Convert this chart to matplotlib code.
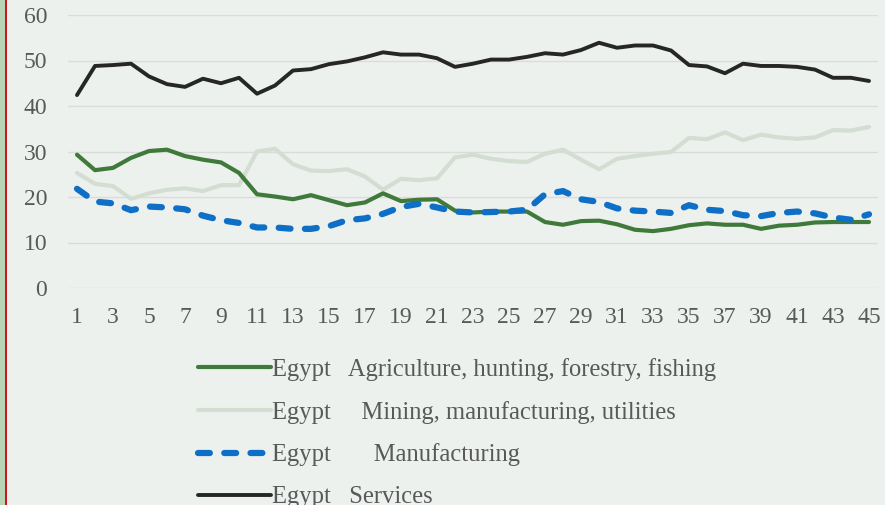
import matplotlib
matplotlib.use("Agg")
import matplotlib.pyplot as plt
from matplotlib.patches import Rectangle

# Period index (1..45)
periods = list(range(1, 46))

agriculture = [29.3, 25.9, 26.4, 28.6, 30.1, 30.4, 29.0, 28.2, 27.6, 25.3,
               20.6, 20.1, 19.5, 20.4, 19.3, 18.2, 18.8, 20.8, 19.1, 19.4,
               19.5, 17.0, 16.6, 16.8, 16.8, 16.8, 14.5, 13.9, 14.7, 14.8,
               14.0, 12.8, 12.5, 13.0, 13.8, 14.2, 13.9, 13.9, 13.0, 13.7,
               13.9, 14.4, 14.5, 14.5, 14.5]

mining = [25.3, 22.9, 22.4, 19.6, 20.8, 21.6, 21.9, 21.3, 22.6, 22.6,
          30.0, 30.6, 27.2, 25.8, 25.7, 26.1, 24.5, 21.6, 24.0, 23.7,
          24.1, 28.7, 29.3, 28.4, 27.9, 27.7, 29.5, 30.4, 28.2, 26.1,
          28.4, 29.0, 29.5, 29.9, 33.0, 32.7, 34.2, 32.5, 33.7, 33.1,
          32.8, 33.1, 34.7, 34.6, 35.4]

manufacturing = [21.8, 19.0, 18.6, 17.1, 17.9, 17.7, 17.3, 15.9, 14.9, 14.3,
                 13.3, 13.3, 13.0, 13.0, 13.6, 14.9, 15.3, 16.3, 17.8, 18.5,
                 17.7, 16.8, 16.6, 16.7, 16.8, 17.2, 20.6, 21.3, 19.5, 18.9,
                 17.5, 17.0, 16.8, 16.5, 18.2, 17.2, 16.9, 16.0, 15.8, 16.5,
                 16.8, 16.4, 15.5, 15.0, 16.2]

services = [42.4, 48.8, 49.0, 49.3, 46.5, 44.8, 44.2, 46.0, 45.0, 46.2,
            42.7, 44.5, 47.8, 48.1, 49.2, 49.8, 50.7, 51.8, 51.3, 51.3,
            50.5, 48.6, 49.3, 50.2, 50.2, 50.8, 51.6, 51.3, 52.3, 53.9,
            52.8, 53.3, 53.3, 52.2, 49.0, 48.7, 47.2, 49.3, 48.8, 48.8,
            48.6, 48.0, 46.2, 46.2, 45.5]

labels = [
    "Egypt   Agriculture, hunting, forestry, fishing",
    "Egypt     Mining, manufacturing, utilities",
    "Egypt       Manufacturing",
    "Egypt   Services",
]
x_ticks = list(range(1, 46, 2))
y_ticks = [0, 10, 20, 30, 40, 50, 60]

BG = "#edf1ee"
TEXT = "#595959"

fig = plt.figure(figsize=(8.85, 5.05), dpi=100, facecolor=BG)

# decorative frame strip on the left edge
fig.patches.append(Rectangle((0, 0), 5 / 885, 1, transform=fig.transFigure,
                             facecolor="#b7d4b6", edgecolor="none", zorder=0))
fig.patches.append(Rectangle((5 / 885, 0), 2.2 / 885, 1, transform=fig.transFigure,
                             facecolor="#d0141c", edgecolor="none", zorder=0))

ax = fig.add_axes([68 / 885, 1 - 288 / 505, 810 / 885, 273 / 505])
ax.set_facecolor(BG)

l1, = ax.plot(periods, agriculture, color="#3f7a3b", lw=3.0,
              solid_joinstyle="round", solid_capstyle="round", zorder=3)
l2, = ax.plot(periods, mining, color="#d3ddd2", lw=3.0,
              solid_joinstyle="round", solid_capstyle="round", zorder=2)
l3, = ax.plot(periods, manufacturing, color="#0e6fc6", lw=4.5,
              dashes=(1.9, 2.3), dash_capstyle="round", dash_joinstyle="round",
              zorder=4)
l4, = ax.plot(periods, services, color="#262626", lw=2.8,
              solid_joinstyle="round", solid_capstyle="round", zorder=3)

ax.set_xlim(0.5, 45.5)
ax.set_ylim(0, 60)
ax.set_xticks(x_ticks)
ax.set_yticks(y_ticks)
ax.grid(axis="y", color="#dadcda", lw=1.0)
ax.set_axisbelow(True)
for s in ax.spines.values():
    s.set_visible(False)
ax.tick_params(length=0, colors=TEXT, labelsize=17)
ax.tick_params(axis="x", pad=14)
ax.tick_params(axis="y", pad=15)
for t in ax.get_xticklabels() + ax.get_yticklabels():
    t.set_fontfamily("Liberation Serif")
    t.set_color(TEXT)

leg = fig.legend([l1, l2, l3, l4], labels, loc="upper left",
                 bbox_to_anchor=(198 / 885, 1 - 358 / 505),
                 frameon=False, handlelength=2.95, handletextpad=0.08,
                 labelspacing=0.8, borderpad=0, borderaxespad=0,
                 prop={"family": "Liberation Serif", "size": 17.7})
for t in leg.get_texts():
    t.set_color(TEXT)

fig.savefig("out.png", dpi=100, facecolor=BG)
